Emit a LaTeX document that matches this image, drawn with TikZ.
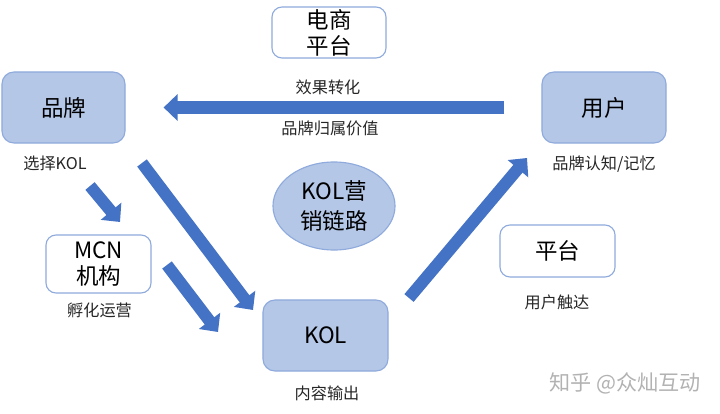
\documentclass[tikz,border=0pt]{standalone}
\usepackage{fontspec}
\setmainfont{Noto Sans CJK SC}
\usetikzlibrary{arrows.meta,shapes.geometric}
\definecolor{boxblue}{HTML}{B4C7E7}
\definecolor{edgeblue}{HTML}{8FAADC}
\definecolor{arrowblue}{HTML}{4472C4}
\tikzset{
    bluebox/.style={draw=edgeblue, fill=boxblue, rounded corners=0.3cm, thick,
        minimum height=1.775cm, font=\fontsize{16}{19}\selectfont},
    whitebox/.style={draw=edgeblue, fill=white, rounded corners=0.25cm, thick,
        align=center, font=\fontsize{16}{18.5}\selectfont},
    tag/.style={font=\fontsize{11.5}{13}\selectfont, text=black!85},
    bigarrow/.style={arrowblue, line width=0.3cm, -{Triangle[length=0.35cm,width=0.65cm]}}
}
\begin{document}
\begin{tikzpicture}[x=0.025cm, y=-0.025cm]
    \useasboundingbox (0,0) rectangle (720,413);

    % boxes
    \node[bluebox, minimum width=3.075cm] (brand) at (63.5,107.5) {品牌};
    \node[bluebox, minimum width=3.1cm] (user) at (604,107.5) {用户};
    \node[bluebox, minimum width=3.125cm] (kol) at (325.5,335.5) {KOL};
    \node[whitebox, minimum width=2.85cm, minimum height=1.275cm, inner sep=1pt] (ecom) at (329,32.5) {电商\\平台};
    \node[whitebox, minimum width=2.625cm, minimum height=1.45cm, inner sep=1pt] (mcn) at (98.5,264) {MCN\\机构};
    \node[whitebox, minimum width=2.875cm, minimum height=1.3cm] (plat) at (557.5,251) {平台};
    \node[ellipse, draw=edgeblue, fill=boxblue, thick, minimum width=3.05cm, minimum height=2.2cm,
        inner sep=0pt, align=center, font=\fontsize{16}{21}\selectfont] (chain) at (334,206) {KOL营\\销链路};

    % labels
    \node[tag] (pick) at (55,163) {选择KOL};
    \node[tag] (convert) at (328,87) {效果转化};
    \node[tag] (value) at (330,128) {品牌归属价值};
    \node[tag] (memory) at (604,164) {品牌认知/记忆};
    \node[tag] (incubate) at (99.5,310) {孵化运营};
    \node[tag] (content) at (327,393) {内容输出};
    \node[tag] (reach) at (557,302) {用户触达};
    \node[text=black!30, font=\fontsize{15}{17}\selectfont] (mark) at (625,383) {知乎 @众灿互动};

    % draw arrow
    \coordinate (a1s) at (90,186);
    \coordinate (a1e) at (120,222);
    \coordinate (a2s) at (142,163);
    \coordinate (a2e) at (253,310);
    \coordinate (a3s) at (167,265);
    \coordinate (a3e) at (218,332);
    \coordinate (a4s) at (409,298);
    \coordinate (a4e) at (527,158);
    \draw[bigarrow, shorten <=37*0.025cm, shorten >=38*0.025cm] (user.west) -- (brand.east);
    \draw[bigarrow] (a1s) -- (a1e);
    \draw[bigarrow] (a2s) -- (a2e);
    \draw[bigarrow] (a3s) -- (a3e);
    \draw[bigarrow] (a4s) -- (a4e);
\end{tikzpicture}
\end{document}
